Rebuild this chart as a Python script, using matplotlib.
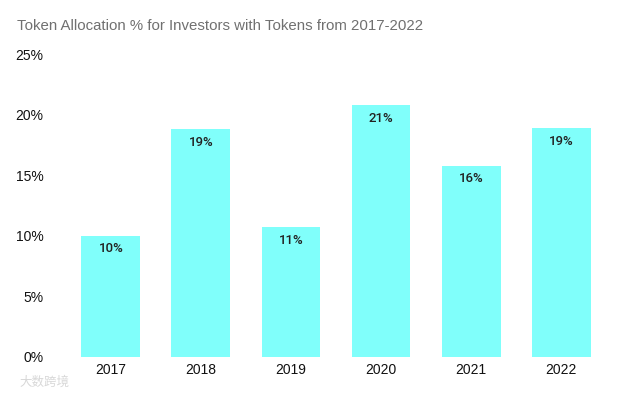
import matplotlib.pyplot as plt
import numpy as np

years = ["2017", "2018", "2019", "2020", "2021", "2022"]
values = [10.0, 18.8, 10.7, 20.8, 15.8, 18.9]
labels = ["10%", "19%", "11%", "21%", "16%", "19%"]
yticks = [0, 5, 10, 15, 20, 25]

plt.rcParams['font.family'] = ['Liberation Sans', 'DejaVu Sans']

fig = plt.figure(figsize=(6.4, 3.96), dpi=100)
ax = fig.add_axes([0.103, 0.0985, 0.844, 0.765])

x = np.arange(len(years))
bars = ax.bar(x, values, width=0.655, color='#80fffb')

for xi, v, lab in zip(x, values, labels):
    ax.text(xi, v - 0.55, lab, ha='center', va='top', fontsize=9.5, color='#222222',
            family=['Roboto', 'DejaVu Sans'], fontweight='medium')

ax.set_xlim(-0.5, len(years) - 0.5)
ax.set_ylim(0, 25)
ax.set_xticks(x)
ax.set_xticklabels(years, fontsize=10, color='#111111')
ax.set_yticks(yticks)
ax.set_yticklabels([f"{t}%" for t in yticks], fontsize=10, color='#111111')
ax.tick_params(length=0, pad=4)
ax.tick_params(axis='y', pad=16)
for s in ax.spines.values():
    s.set_visible(False)

fig.text(0.027, 0.925, "Token Allocation % for Investors with Tokens from 2017-2022",
         fontsize=10.8, color='#707070', ha='left', va='baseline')

# watermark
fig.text(0.03, 0.035, "大数跨境", fontsize=9, color='#d8d8d8', ha='left', va='center',
         family=['Noto Sans CJK SC', 'DejaVu Sans'])

fig.savefig("out.png", dpi=100)
